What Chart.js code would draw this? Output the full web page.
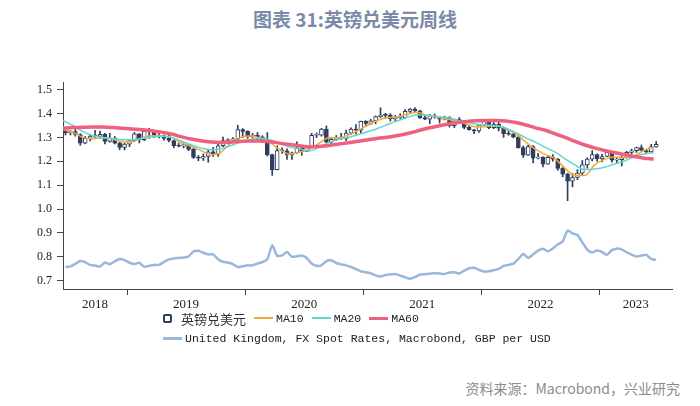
<!DOCTYPE html>
<html>
<head>
<meta charset="utf-8">
<script src="https://cdn.jsdelivr.net/npm/chart.js@4.4.0/dist/chart.umd.min.js"></script>
<style>
body { margin: 0; background: #fff; }
#wrap { position: relative; width: 700px; height: 406px; overflow: hidden; font-family: "Noto Sans CJK SC", sans-serif; }
#title { position: absolute; left: 253px; top: 7px; line-height: 24px; font-size: 19px; font-weight: bold; color: #7b8aa9; white-space: nowrap; }
#box { position: absolute; left: 0; top: 0; width: 700px; height: 310px; }
.leg { position: absolute; height: 16px; display: flex; align-items: center; font-family: "Liberation Mono", monospace; font-size: 11.5px; color: #222; white-space: nowrap; }
.cicon { width: 5px; height: 5px; border: 2px solid #2f3d5e; border-radius: 2px; margin-right: 9px; }
.cn { font-family: "Noto Sans CJK SC", sans-serif; font-size: 13px; margin-right: 8px; color: #333; }
.ln { width: 19px; height: 2px; margin-right: 3px; }
.gap { margin-right: 8px; }
#source { position: absolute; right: 20px; top: 379px; line-height: 18px; font-size: 14px; color: #8c8c8c; white-space: nowrap; }
</style>
</head>
<body>
<div id="wrap">
  <div id="title">图表 31:英镑兑美元周线</div>
  <div id="box"><canvas id="fxChart"></canvas></div>
  <div class="leg" style="top:310px;left:163px">
    <span class="cicon"></span><span class="cn">英镑兑美元</span>
    <span class="ln" style="background:#f2a93b"></span><span class="gap">MA10</span>
    <span class="ln" style="background:#62d6d0"></span><span class="gap">MA20</span>
    <span class="ln" style="background:#ef5f7e;height:3px"></span><span>MA60</span>
  </div>
  <div class="leg" style="top:330px;left:163px">
    <span class="ln" style="background:#98b8db;height:3px"></span><span>United Kingdom, FX Spot Rates, Macrobond, GBP per USD</span>
  </div>
  <div id="source">资料来源：Macrobond，兴业研究</div>
</div>
<script>
const candleOpen = [
    1.3300,1.3200,1.3240,1.3120,1.2760,1.2960,1.3050,1.3040,1.3130,1.2830,1.2970,1.2760,1.2580,
    1.2720,1.2860,1.3150,1.2900,1.3250,1.3230,1.3040,1.3080,1.2960,1.2870,1.2650,1.2630,1.2700,1.2500,1.2160,1.2130,1.2200,1.2400,1.2300,1.2650,1.2870,1.2890,1.2940,1.3330,
    1.3250,1.3030,1.3100,1.3020,1.2820,1.2280,1.1650,1.2450,1.2440,1.2270,1.2350,1.2560,1.2410,1.2600,1.3090,1.3090,1.3350,1.2800,1.2920,1.3000,1.2950,1.3180,1.3350,1.3300,
    1.3670,1.3580,1.3690,1.3870,1.3930,1.3920,1.3780,1.3830,1.3830,1.4090,1.4190,1.4110,1.3830,1.3760,1.3900,1.3850,1.3760,1.3830,1.3490,1.3750,1.3690,1.3420,1.3320,1.3270,
    1.3530,1.3690,1.3410,1.3550,1.3390,1.3160,1.3140,1.3010,1.2570,1.2260,1.2620,1.2130,1.2180,1.1880,1.2170,1.2090,1.1700,1.1460,1.1170,1.1320,1.1500,1.1850,1.2090,1.2280,
    1.2100,1.2200,1.2380,1.2050,1.2070,1.2150,1.2370,1.2440,1.2570,1.2450,1.2390,1.2600
];
const candleHigh = [
    1.3330,1.3290,1.3360,1.3150,1.3040,1.3100,1.3300,1.3260,1.3170,1.3170,1.3040,1.2840,1.2760,
    1.2920,1.3210,1.3160,1.3350,1.3380,1.3290,1.3180,1.3110,1.3180,1.2890,1.2760,1.2780,1.2720,1.2540,1.2240,1.2310,1.2470,1.2580,1.2710,1.3010,1.2940,1.2990,1.3510,1.3370,
    1.3280,1.3170,1.3210,1.3070,1.3200,1.2300,1.2650,1.2560,1.2520,1.2380,1.2810,1.2620,1.2670,1.3170,1.3190,1.3380,1.3480,1.3010,1.3080,1.3170,1.3310,1.3400,1.3540,1.3680,
    1.3700,1.3760,1.3900,1.4240,1.4010,1.4000,1.3920,1.3990,1.4170,1.4220,1.4250,1.4130,1.3900,1.3960,1.3980,1.3880,1.3890,1.3870,1.3770,1.3830,1.3700,1.3510,1.3340,1.3540,
    1.3750,1.3690,1.3640,1.3640,1.3440,1.3300,1.3170,1.3090,1.2640,1.2670,1.2660,1.2330,1.2190,1.2250,1.2280,1.2120,1.1740,1.1500,1.1490,1.1650,1.2030,1.2150,1.2450,1.2310,
    1.2290,1.2450,1.2400,1.2140,1.2210,1.2420,1.2510,1.2590,1.2680,1.2470,1.2710,1.2830
];
const candleLow = [
    1.3100,1.3100,1.3050,1.2670,1.2730,1.2850,1.3000,1.2960,1.2730,1.2800,1.2720,1.2480,1.2480,
    1.2610,1.2820,1.2770,1.2860,1.2960,1.3000,1.2980,1.2880,1.2810,1.2560,1.2600,1.2560,1.2440,1.2120,1.2020,1.2030,1.1960,1.2200,1.2200,1.2610,1.2770,1.2830,1.2890,1.2990,
    1.2960,1.2970,1.2870,1.2790,1.2220,1.1410,1.1640,1.2330,1.2080,1.2080,1.2330,1.2250,1.2400,1.2570,1.2990,1.3050,1.2760,1.2680,1.2860,1.2910,1.2860,1.3110,1.3140,1.3190,
    1.3450,1.3530,1.3570,1.3830,1.3780,1.3680,1.3670,1.3780,1.3800,1.4010,1.4070,1.3790,1.3740,1.3570,1.3800,1.3600,1.3730,1.3430,1.3410,1.3660,1.3360,1.3300,1.3160,1.3210,
    1.3500,1.3360,1.3360,1.3270,1.3000,1.3090,1.2980,1.2550,1.2160,1.2240,1.1930,1.2100,1.1760,1.1870,1.2000,1.1620,1.1350,1.0350,1.0930,1.1230,1.1420,1.1710,1.2010,1.1990,
    1.1970,1.2190,1.1960,1.1930,1.1800,1.2130,1.2300,1.2370,1.2430,1.2310,1.2370,1.2590
];
const candleClose = [
    1.3200,1.3240,1.3120,1.2760,1.2960,1.3050,1.3040,1.3130,1.2830,1.2970,1.2760,1.2580,1.2720,
    1.2860,1.3150,1.2900,1.3250,1.3230,1.3040,1.3080,1.2960,1.2870,1.2650,1.2630,1.2700,1.2500,1.2160,1.2130,1.2200,1.2400,1.2300,1.2650,1.2870,1.2890,1.2940,1.3330,1.3250,
    1.3030,1.3100,1.3020,1.2820,1.2280,1.1650,1.2450,1.2440,1.2270,1.2350,1.2560,1.2410,1.2600,1.3090,1.3090,1.3350,1.2800,1.2920,1.3000,1.2950,1.3180,1.3350,1.3300,1.3670,
    1.3580,1.3690,1.3870,1.3930,1.3920,1.3780,1.3830,1.3830,1.4090,1.4190,1.4110,1.3830,1.3760,1.3900,1.3850,1.3760,1.3830,1.3490,1.3750,1.3690,1.3420,1.3320,1.3270,1.3530,
    1.3690,1.3410,1.3550,1.3390,1.3160,1.3140,1.3010,1.2570,1.2260,1.2620,1.2130,1.2180,1.1880,1.2170,1.2090,1.1700,1.1460,1.1170,1.1320,1.1500,1.1850,1.2090,1.2280,1.2100,
    1.2200,1.2380,1.2050,1.2070,1.2150,1.2370,1.2440,1.2570,1.2450,1.2390,1.2600,1.2710
];

// GBP per USD, same half-month steps
const fxValues = [
    0.757,0.760,0.770,0.782,0.777,0.766,0.763,0.759,0.776,0.769,0.781,0.791,0.786,
    0.775,0.770,0.775,0.758,0.762,0.766,0.766,0.778,0.789,0.793,0.795,0.797,0.801,0.822,0.825,0.817,0.810,0.810,0.790,0.779,0.776,0.769,0.757,0.760,
    0.764,0.764,0.772,0.778,0.790,0.848,0.804,0.806,0.820,0.800,0.802,0.805,0.795,0.772,0.762,0.764,0.782,0.785,0.774,0.768,0.764,0.757,0.748,0.739,
    0.735,0.731,0.722,0.717,0.724,0.726,0.728,0.721,0.714,0.708,0.715,0.725,0.727,0.729,0.731,0.730,0.728,0.734,0.735,0.730,0.742,0.752,0.754,0.745,
    0.738,0.739,0.744,0.749,0.762,0.766,0.771,0.791,0.812,0.795,0.810,0.826,0.834,0.823,0.835,0.851,0.864,0.910,0.898,0.891,0.860,0.830,0.818,0.826,
    0.820,0.808,0.828,0.834,0.831,0.819,0.809,0.801,0.805,0.808,0.791,0.787
];

// moving averages, one point per month mid, Jun 2018 .. Jun 2023
const ma10 = [
    1.332,1.322,1.300,1.294,1.298,1.293,1.281,
    1.282,1.298,1.307,1.306,1.300,1.277,1.262,1.245,1.228,1.236,1.275,1.300,
    1.306,1.298,1.278,1.250,1.230,1.238,1.250,1.275,1.298,1.298,1.310,1.330,
    1.352,1.372,1.383,1.386,1.398,1.405,1.392,1.385,1.376,1.368,1.355,1.344,
    1.346,1.350,1.335,1.315,1.280,1.250,1.228,1.210,1.170,1.140,1.140,1.185,
    1.208,1.218,1.215,1.222,1.245,1.260
];
const ma20 = [
    1.371,1.350,1.325,1.308,1.300,1.295,1.290,
    1.290,1.295,1.302,1.305,1.300,1.285,1.268,1.255,1.248,1.252,1.265,1.280,
    1.290,1.297,1.290,1.275,1.260,1.252,1.243,1.258,1.278,1.292,1.300,1.312,
    1.325,1.338,1.355,1.370,1.385,1.395,1.393,1.388,1.383,1.372,1.363,1.355,
    1.352,1.349,1.338,1.320,1.298,1.280,1.258,1.238,1.210,1.185,1.165,1.168,
    1.175,1.188,1.200,1.218,1.230,1.237
];
const ma60 = [
    1.339,1.341,1.342,1.343,1.343,1.341,1.338,
    1.335,1.332,1.328,1.322,1.314,1.303,1.293,1.286,1.281,1.279,1.280,1.283,
    1.285,1.285,1.282,1.276,1.270,1.265,1.260,1.262,1.266,1.272,1.278,1.284,
    1.290,1.296,1.301,1.308,1.316,1.327,1.338,1.347,1.355,1.362,1.367,1.370,
    1.371,1.371,1.369,1.362,1.352,1.340,1.330,1.315,1.300,1.283,1.268,1.256,
    1.245,1.237,1.228,1.220,1.213,1.209
];

const yearTicks = [2019, 2020, 2021, 2022, 2023];
const yearLabels = ['2018', '2019', '2020', '2021', '2022', '2023'];

const xMin = 2018.458;
const xMax = 2023.613;
const navy = '#2f3d5e';

// dates as decimal years
const candleStart = 2018 + 5.75 / 12;
const lineStart = 2018 + 5.5 / 12;
const candleX = candleClose.map((c, i) => candleStart + i / 24);
const lineX = ma10.map((v, i) => lineStart + i / 12);

const bodies = candleClose.map((c, i) => ({ x: candleX[i], y: [candleOpen[i], c] }));
const wicks = candleClose.map((c, i) => ({ x: candleX[i], y: [candleLow[i], candleHigh[i]] }));
const toPoints = (arr, xs) => arr.map((v, i) => ({ x: xs[i], y: v }));

// year labels sit in the middle of each year span, tick marks at year starts
const edges = [xMin].concat(yearTicks, [xMax]);
const labelPos = yearLabels.map((l, i) => (edges[i] + edges[i + 1]) / 2);
const allTicks = labelPos.concat(yearTicks).sort((a, b) => a - b);

function isUp(ctx) {
    const d = ctx.raw;
    return d && d.y[1] >= d.y[0];
}

const serif = { family: 'Liberation Serif', size: 12 };

new Chart(document.getElementById('fxChart'), {
    type: 'bar',
    data: {
        datasets: [
            {
                type: 'line', label: 'MA60', data: toPoints(ma60, lineX),
                borderColor: '#ef5f7e', borderWidth: 3.5, pointRadius: 0,
                cubicInterpolationMode: 'monotone', order: 0
            },
            {
                type: 'line', label: 'MA20', data: toPoints(ma20, lineX),
                borderColor: '#62d6d0', borderWidth: 1.5, pointRadius: 0,
                cubicInterpolationMode: 'monotone', order: 1
            },
            {
                type: 'line', label: 'MA10', data: toPoints(ma10, lineX),
                borderColor: '#f2a93b', borderWidth: 1.5, pointRadius: 0,
                cubicInterpolationMode: 'monotone', order: 2
            },
            {
                label: '英镑兑美元', data: bodies, grouped: false,
                barThickness: 4, minBarLength: 1, borderWidth: 1, borderSkipped: false,
                borderColor: navy,
                backgroundColor: ctx => isUp(ctx) ? '#ffffff' : navy,
                order: 3
            },
            {
                label: 'wick', data: wicks, grouped: false,
                barThickness: 1, borderWidth: 0, backgroundColor: navy,
                order: 4
            },
            {
                type: 'line', label: 'United Kingdom, FX Spot Rates, Macrobond, GBP per USD',
                data: toPoints(fxValues, candleX),
                borderColor: '#98b8db', borderWidth: 2.5, pointRadius: 0, tension: 0.2,
                order: 5
            }
        ]
    },
    options: {
        responsive: true,
        maintainAspectRatio: false,
        animation: false,
        layout: { padding: { top: 82, right: 28, bottom: 0, left: 0 } },
        plugins: { legend: { display: false }, tooltip: { enabled: false } },
        scales: {
            x: {
                type: 'linear', min: xMin, max: xMax, offset: false,
                grid: {
                    offset: false, drawOnChartArea: false, tickLength: 6,
                    color: ctx => (ctx.tick && yearTicks.includes(ctx.tick.value)) ? '#444' : 'rgba(0,0,0,0)'
                },
                border: { display: true, color: '#444' },
                afterBuildTicks: axis => { axis.ticks = allTicks.map(v => ({ value: v })); },
                afterFit: axis => { axis.height = 21; },
                ticks: {
                    autoSkip: false, maxRotation: 0, padding: 2, color: '#222',
                    font: { family: 'Liberation Serif', size: 13 },
                    callback: v => {
                        const k = labelPos.indexOf(v);
                        return k >= 0 ? yearLabels[k] : '';
                    }
                }
            },
            y: {
                type: 'linear', min: 0.665, max: 1.532, beginAtZero: false,
                grid: { drawOnChartArea: false, tickLength: 6, color: '#444' },
                border: { display: true, color: '#444' },
                afterFit: axis => { axis.width = 63; },
                ticks: {
                    stepSize: 0.1, includeBounds: false, padding: 5, color: '#222', font: serif,
                    callback: v => v.toFixed(1)
                }
            }
        }
    }
});
</script>
</body>
</html>
